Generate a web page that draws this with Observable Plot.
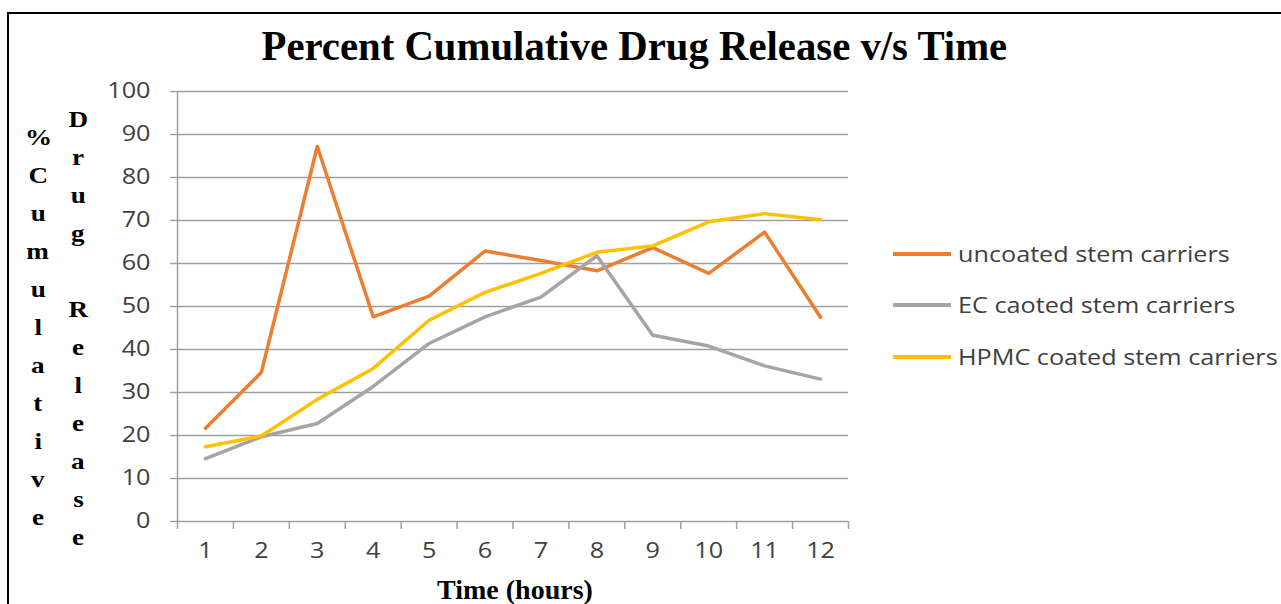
<!DOCTYPE html>
<html>
<head>
<meta charset="utf-8">
<script src="https://cdn.jsdelivr.net/npm/d3@7"></script>
<script src="https://cdn.jsdelivr.net/npm/@observablehq/plot@0.6"></script>
<style>
  html, body { margin: 0; padding: 0; background: #fff; }
  #page { position: relative; width: 1281px; height: 604px; overflow: hidden; background: #fff; }
  #frame { position: absolute; left: 7px; top: 12px; width: 1400px; height: 700px;
           border-left: 2px solid #000; border-top: 2px solid #000; box-sizing: border-box; }
  #title { position: absolute; left: 0; width: 1268px; top: 20px; text-align: center;
           font-family: "Liberation Serif", serif; font-weight: bold; font-size: 42px;
           color: #000; line-height: 52px; }
  #title span { display: inline-block; transform: scaleX(0.97); transform-origin: center; }
  .ycol { position: absolute; width: 40px; text-align: center;
          font-family: "Liberation Serif", serif; font-weight: bold; font-size: 23px; color: #000; }
  .ycol div { height: 38px; line-height: 38px; }
  .ycol span { display: inline-block; transform: scaleX(1.18); }
  #xtitle { position: absolute; left: 315px; width: 400px; top: 574px; text-align: center;
            font-family: "Liberation Serif", serif; font-weight: bold; font-size: 28px; color: #000; line-height: 32px; }
  #chart { position: absolute; left: 0; top: 0; }
  #legend { position: absolute; left: 893px; top: 0; font-family: "Open Sans", sans-serif;
            font-size: 21px; color: #404040; }
  .item { position: absolute; left: 0; white-space: nowrap; display: flex; align-items: center; height: 30px; }
  .swatch { width: 58px; height: 3.5px; margin-right: 7px; }
  .item span { display: inline-block; transform: scaleX(1.2); transform-origin: left center; }
</style>
</head>
<body>
<div id="page">
  <div id="frame"></div>
  <div id="title"><span></span></div>
  <div id="chart"></div>
  <div class="ycol" id="ycol1" style="left:18px; top:119px;"></div>
  <div class="ycol" id="ycol2" style="left:58px; top:101px;"></div>
  <div id="xtitle"></div>
  <div id="legend"></div>
</div>
<script>
// Sampling times (hours)
const hours = [1, 2, 3, 4, 5, 6, 7, 8, 9, 10, 11, 12];

// Percent cumulative drug release for each formulation
const uncoated   = [21.7, 34.7, 87.2, 47.6, 52.4, 62.9, 60.7, 58.3, 63.7, 57.7, 67.3, 47.5];
const ecCoated   = [14.6, 19.7, 22.8, 31.4, 41.4, 47.6, 52.2, 61.8, 43.3, 40.8, 36.2, 33.1];
const hpmcCoated = [17.4, 19.9, 28.4, 35.6, 46.8, 53.3, 57.7, 62.6, 64.1, 69.7, 71.6, 70.2];

const seriesNames  = ["uncoated stem carriers", "EC caoted stem carriers", "HPMC coated stem carriers"];
const seriesColors = ["#ED7D31", "#A5A5A5", "#FFC000"];
const seriesValues = [uncoated, ecCoated, hpmcCoated];

const yTicks = [0, 10, 20, 30, 40, 50, 60, 70, 80, 90, 100];

const titleText  = "Percent Cumulative Drug Release v/s Time";
const xTitleText = "Time (hours)";
const yTitleA    = "%Cumulative";
const yTitleB    = "Drug Release";

// Long-format table for the line mark
const rows = seriesNames.flatMap((name, s) =>
  hours.map((h, i) => ({hour: h, value: seriesValues[s][i], series: name}))
);

// Category boundaries carry the x tick marks, as in a category axis
const boundaries = [hours[0] - 0.5, ...hours.map(h => h + 0.5)];

const grid = "#A0A0A0";

const chart = Plot.plot({
  width: 900,
  height: 604,
  marginLeft: 177,
  marginRight: 52,
  marginTop: 91,
  marginBottom: 83,
  x: {domain: [boundaries[0], boundaries[boundaries.length - 1]]},
  y: {domain: [0, 100]},
  color: {domain: seriesNames, range: seriesColors},
  style: {fontFamily: "'Open Sans', sans-serif", fontSize: "21px", color: "#404040", background: "transparent", overflow: "visible"},
  marks: [
    Plot.ruleY(yTicks, {stroke: grid, strokeWidth: 1.5}),
    Plot.ruleX([boundaries[0]], {stroke: grid, strokeWidth: 1.5}),
    Plot.axisY({ticks: yTicks, tickSize: 7, tickPadding: 20, stroke: grid, strokeWidth: 1.5, label: null, fontSize: 21}),
    Plot.axisX({ticks: boundaries, tickSize: 8, tickFormat: () => "", stroke: grid, strokeWidth: 1.5, label: null}),
    Plot.axisX({ticks: hours, tickSize: 0, tickPadding: 22, tickFormat: d => String(d), label: null, fontSize: 21}),
    Plot.lineY(rows, {x: "hour", y: "value", stroke: "series", strokeWidth: 3.5, strokeLinejoin: "round", strokeLinecap: "round"})
  ]
});

// Widen the tick label glyphs slightly around their own anchor points
chart.querySelectorAll("text").forEach(t => {
  const tr = t.getAttribute("transform");
  if (tr) t.setAttribute("transform", tr + " scale(1.2,1)");
});
document.getElementById("chart").appendChild(chart);

document.querySelector("#title span").textContent = titleText;
document.getElementById("xtitle").textContent = xTitleText;

// Stacked vertical y-axis title, one character per line
function stack(id, text) {
  const el = document.getElementById(id);
  for (const ch of text) {
    const d = document.createElement("div");
    const s = document.createElement("span");
    s.textContent = ch === " " ? "\u00a0" : ch;
    d.appendChild(s);
    el.appendChild(d);
  }
}
stack("ycol1", yTitleA);
stack("ycol2", yTitleB);

// Legend on the right
const legendTops = [239, 290, 342];
const legend = document.getElementById("legend");
seriesNames.forEach((name, i) => {
  const item = document.createElement("div");
  item.className = "item";
  item.style.top = legendTops[i] + "px";
  const sw = document.createElement("div");
  sw.className = "swatch";
  sw.style.background = seriesColors[i];
  const label = document.createElement("span");
  label.textContent = name;
  item.appendChild(sw);
  item.appendChild(label);
  legend.appendChild(item);
});
</script>
</body>
</html>
